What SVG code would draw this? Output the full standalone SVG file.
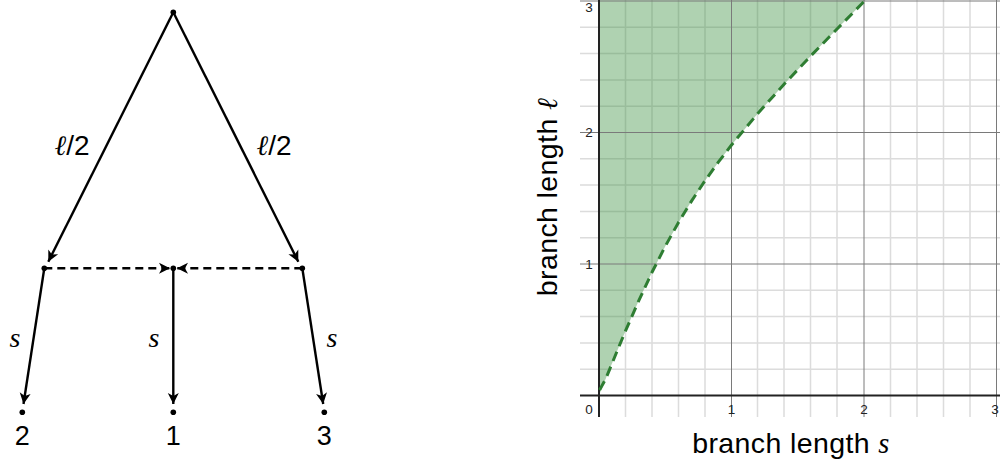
<svg xmlns="http://www.w3.org/2000/svg" width="1000" height="459" viewBox="0 0 1000 459">
<style>
.edge{stroke:#000;stroke-width:2.4;fill:none}
.dash{stroke-dasharray:8,5}
.dot{fill:#000}
.lbl{font-family:"Liberation Sans",Arial,sans-serif;font-size:27px;fill:#000;text-anchor:middle}
.math{font-family:"Liberation Serif","DejaVu Serif",serif;font-style:italic;font-size:28px;fill:#000;text-anchor:middle}
.minor{stroke:#dcdcdc;stroke-width:1.5}
.major{stroke:#7a7a7a;stroke-width:1}
.axis{stroke:#222;stroke-width:2}
.tick{font-family:"Liberation Sans",Arial,sans-serif;font-size:13.5px;fill:#222;text-anchor:middle}
.axlbl{font-family:"Liberation Sans",Arial,sans-serif;font-size:28.5px;letter-spacing:0.4px;fill:#000;text-anchor:middle}
</style>
<defs>
<marker id="arr" viewBox="-13 -7 15 14" refX="0" refY="0" markerWidth="15" markerHeight="14" markerUnits="userSpaceOnUse" orient="auto">
<path d="M0,0 L-11,-5.5 L-8,0 L-11,5.5 Z" fill="#000"/>
</marker>
</defs>
<g id="connectors">
<line class="edge" x1="173.3" y1="12.3" x2="48.3" y2="261.7" marker-end="url(#arr)"/>
<line class="edge" x1="173.3" y1="12.3" x2="298.3" y2="261.7" marker-end="url(#arr)"/>
<line class="edge dash" x1="44.3" y1="268.3" x2="170" y2="268.3" marker-end="url(#arr)"/>
<line class="edge dash" x1="302.3" y1="268.3" x2="177" y2="268.3" marker-end="url(#arr)"/>
<line class="edge" x1="44.3" y1="268.3" x2="23.5" y2="404" marker-end="url(#arr)"/>
<line class="edge" x1="173.3" y1="268.3" x2="173.3" y2="404" marker-end="url(#arr)"/>
<line class="edge" x1="302.3" y1="268.3" x2="323.2" y2="404" marker-end="url(#arr)"/>
<text class="math" x="72" y="155">ℓ<tspan font-style="normal" font-family="Liberation Sans,Arial,sans-serif">/2</tspan></text>
<text class="math" x="274" y="155">ℓ<tspan font-style="normal" font-family="Liberation Sans,Arial,sans-serif">/2</tspan></text>
<text class="math" x="15" y="347">s</text>
<text class="math" x="154" y="347">s</text>
<text class="math" x="332" y="347">s</text>
</g>
<g id="node-root"><circle class="dot" cx="173.3" cy="12.3" r="2.8"/></g>
<g id="node-left"><circle class="dot" cx="44.3" cy="268.3" r="2.8"/></g>
<g id="node-mid"><circle class="dot" cx="173.3" cy="268.3" r="2.8"/></g>
<g id="node-right"><circle class="dot" cx="302.3" cy="268.3" r="2.8"/></g>
<g id="leaf-2"><circle class="dot" cx="22.3" cy="412.3" r="2.8"/><text class="lbl" x="22.3" y="445">2</text></g>
<g id="leaf-1"><circle class="dot" cx="173.3" cy="412.3" r="2.8"/><text class="lbl" x="173.3" y="445">1</text></g>
<g id="leaf-3"><circle class="dot" cx="324.3" cy="412.3" r="2.8"/><text class="lbl" x="324.3" y="445">3</text></g>
<g id="plot">
<g id="grid-minor">
<path class="minor" d="M625.5,0V417 M652,0V417 M678.5,0V417 M705,0V417 M757.5,0V417 M784,0V417 M810.5,0V417 M837,0V417 M890.5,0V417 M917,0V417 M943.5,0V417 M970,0V417
M580,369.2H1000 M580,342.9H1000 M580,316.6H1000 M580,290.3H1000 M580,237.7H1000 M580,211.4H1000 M580,185.1H1000 M580,158.8H1000 M580,106.2H1000 M580,79.9H1000 M580,53.6H1000 M580,27.3H1000"/>
</g>
<path d="M599,0 L865.6,0 L864,1.6 L837.5,28.5 L811,55.7 L784.5,83.8 L758,113.2 L731.5,145 L718.3,162.2 L705,180.7 L691.8,200.6 L678.5,222.4 L665.3,246.2 L652,272.3 L638.8,300.6 L625.5,330.9 L618.9,346.7 L612.3,362.8 L605.6,379.1 L599,395.5 Z" fill="#388e3c" fill-opacity="0.4"/>
<g id="grid-major">
<path class="major" d="M731.5,0V417 M864,0V417 M996.5,0V417 M580,264H1000 M580,132.5H1000 M580,1H1000"/>
</g>
<path class="axis" d="M599,0V417 M580,395.5H1000"/>
<path d="M599.6,390 L605.6,379.1 L612.3,362.8 L618.9,346.7 L625.5,330.9 L638.8,300.6 L652,272.3 L665.3,246.2 L678.5,222.4 L691.8,200.6 L705,180.7 L718.3,162.2 L731.5,145 L758,113.2 L784.5,83.8 L811,55.7 L837.5,28.5 L864,1.6 L865.6,0" fill="none" stroke="#2e7d32" stroke-width="3" stroke-dasharray="10,6" stroke-linejoin="round"/>
<g id="ticks">
<text class="tick" x="589" y="414">0</text>
<text class="tick" x="731.5" y="414">1</text>
<text class="tick" x="864" y="414">2</text>
<text class="tick" x="995" y="414">3</text>
<text class="tick" x="589" y="269">1</text>
<text class="tick" x="589" y="137">2</text>
<text class="tick" x="589" y="12">3</text>
</g>
<text class="axlbl" x="791" y="453">branch length <tspan font-family="Liberation Serif,serif" font-style="italic">s</tspan></text>
<text class="axlbl" transform="translate(557,197) rotate(-90)">branch length <tspan font-family="Liberation Serif,serif" font-style="italic">ℓ</tspan></text>
</g>
</svg>
